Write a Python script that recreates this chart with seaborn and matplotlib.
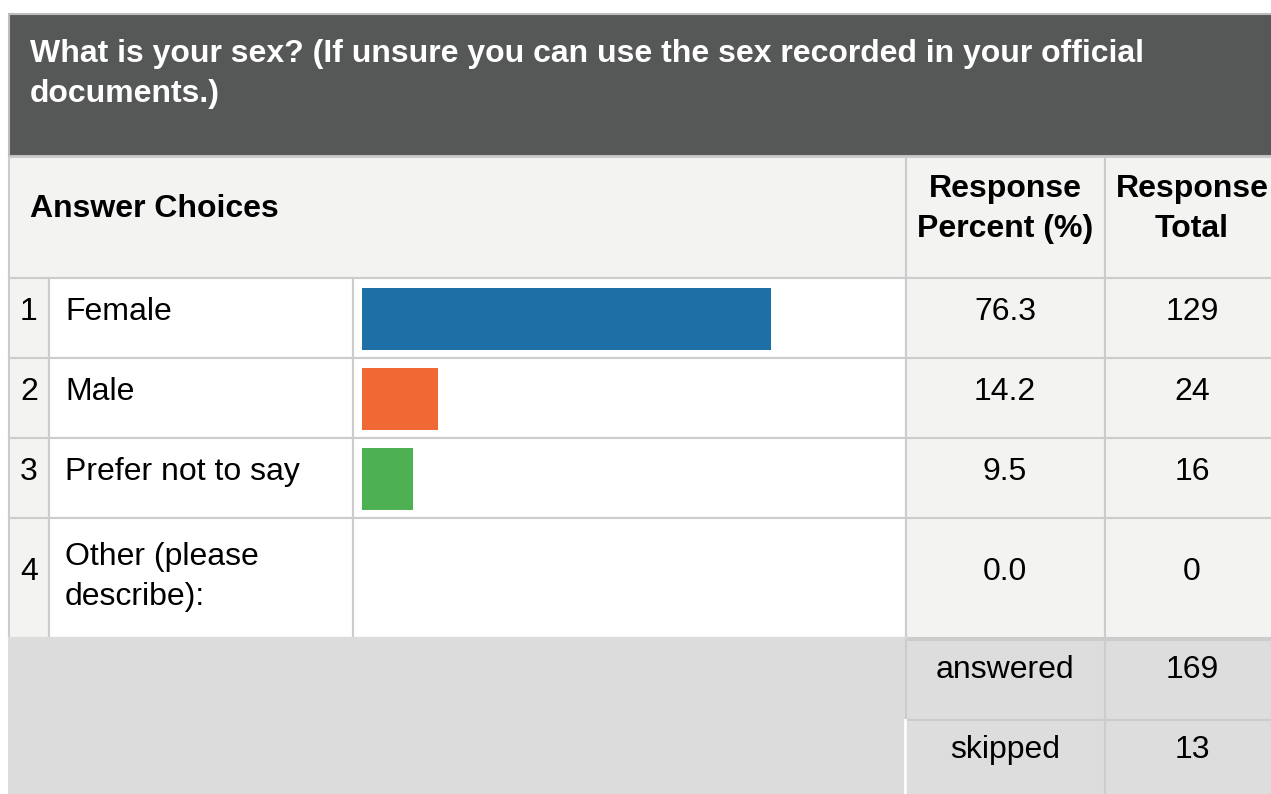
import matplotlib
matplotlib.use("Agg")
import matplotlib.pyplot as plt
from matplotlib.patches import Rectangle
import pandas as pd
import seaborn as sns

plt.rcParams['font.family'] = ['Liberation Sans', 'DejaVu Sans']

title = "What is your sex? (If unsure you can use the sex recorded in your official\ndocuments.)"
choices = ["Female", "Male", "Prefer not to say", "Other (please\ndescribe):"]
percent = [76.3, 14.2, 9.5, 0.0]
totals = [129, 24, 16, 0]
answered = 169
skipped = 13
bar_colors = ["#1d6fa5", "#f06934", "#4db052", "#9e9e9e"]

df = pd.DataFrame({"choice": choices, "percent": percent})

W, H = 1271, 794
fig = plt.figure(figsize=(W / 100, H / 100), dpi=100)
ax = fig.add_axes([0, 0, 1, 1])
ax.set_xlim(0, W)
ax.set_ylim(H, 0)
ax.axis("off")

line_c = "#cccccc"
light = "#f3f3f2"
FS = 23


def box(x0, y0, x1, y1, fc, ec=line_c, lw=1.5):
    ax.add_patch(Rectangle((x0, y0), x1 - x0, y1 - y0, facecolor=fc,
                           edgecolor=ec, linewidth=lw, zorder=1))


def lines(x, y, text, step=40, **kw):
    # each line placed by its baseline
    for i, t in enumerate(text.split("\n")):
        ax.text(x, y + i * step, t, va="baseline", fontsize=FS, zorder=5, **kw)


# title banner
box(8.5, 13.5, W + 5, 156, "#565857", ec="#bdbdbd")
lines(30, 62, title, step=40, color="white", fontweight="bold")

# header row
box(8.5, 157, 906, 278, light)
box(906, 157, 1105, 278, light)
box(1105, 157, W + 5, 278, light)
lines(30, 217, "Answer Choices", fontweight="bold", color="black")
lines(1005, 197, "Response\nPercent (%)", fontweight="bold", ha="center")
lines(1192, 197, "Response\nTotal", fontweight="bold", ha="center")

# answer rows
row_tops = [278, 358, 438, 518]
row_bots = [358, 438, 518, 638]
for i, (lab, p, n) in enumerate(zip(choices, percent, totals)):
    t, b = row_tops[i], row_bots[i]
    box(8.5, t, 49, b, light)
    box(49, t, 353, b, "white")
    box(353, t, 906, b, "white")
    box(906, t, 1105, b, light)
    box(1105, t, W + 5, b, light)
    nl = lab.count("\n")
    mid = t + 42 + (b - t - 80) / 2
    ax.text(29, mid, str(i + 1), ha="center", va="baseline", fontsize=FS, zorder=5)
    lines(65, t + 42 if nl == 0 else t + 47, lab)
    ax.text(1005, mid, f"{p:.1f}", ha="center", va="baseline", fontsize=FS, zorder=5)
    ax.text(1192, mid, str(n), ha="center", va="baseline", fontsize=FS, zorder=5)

# footer
box(8.5, 638, 906, H + 5, "#dcdcdc", ec="#dcdcdc")
box(906, 640, 1105, 720, "#dddddd")
box(1105, 640, W + 5, 720, "#dddddd")
box(906, 720, 1105, H + 5, "#dddddd")
box(1105, 720, W + 5, H + 5, "#dddddd")
ax.plot([904.5, 904.5], [720, H], color="white", lw=2, zorder=2)
ax.text(1005, 678, "answered", ha="center", va="baseline", fontsize=FS, zorder=5)
ax.text(1192, 678, str(answered), ha="center", va="baseline", fontsize=FS, zorder=5)
ax.text(1005, 758, "skipped", ha="center", va="baseline", fontsize=FS, zorder=5)
ax.text(1192, 758, str(skipped), ha="center", va="baseline", fontsize=FS, zorder=5)

# bars: axes spanning the bar column, 0-100 %
x0, x1 = 362, 898
ytop, ybot = 279, 599
bax = fig.add_axes([x0 / W, (H - ybot) / H, (x1 - x0) / W, (ybot - ytop) / H])
sns.barplot(data=df, x="percent", y="choice", hue="choice", palette=bar_colors,
            saturation=1, width=0.775, linewidth=0, legend=False, ax=bax)
bax.set_xlim(0, 100)
bax.set_facecolor("none")
bax.axis("off")

fig.savefig("out.png", dpi=100)
